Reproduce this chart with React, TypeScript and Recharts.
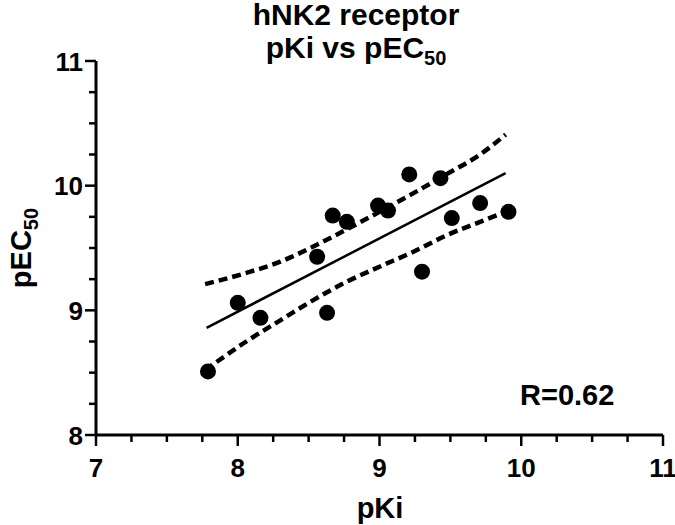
import { ComposedChart, Scatter, Line, XAxis, YAxis } from "recharts";

// measured points
const pkiValues = [7.79, 8.0, 8.16, 8.56, 8.63, 8.67, 8.77, 8.99, 9.06, 9.21, 9.3, 9.43, 9.51, 9.71, 9.91];
const pec50Values = [8.51, 9.06, 8.94, 9.43, 8.98, 9.76, 9.71, 9.84, 9.8, 10.09, 9.31, 10.06, 9.74, 9.86, 9.79];

// linear fit
const fitX = [7.78, 9.89];
const fitY = [8.86, 10.1];

// 95% confidence bands
const bandX = [7.77, 8.06, 8.3, 8.53, 8.77, 9.0, 9.24, 9.47, 9.71, 9.89];
const upperY = [9.21, 9.3, 9.39, 9.51, 9.65, 9.79, 9.94, 10.09, 10.25, 10.41];
const lowerY = [8.52, 8.75, 8.92, 9.08, 9.23, 9.35, 9.47, 9.6, 9.71, 9.79];

const xTicks = [7, 7.25, 7.5, 7.75, 8, 8.25, 8.5, 8.75, 9, 9.25, 9.5, 9.75, 10, 10.25, 10.5, 10.75, 11];
const yTicks = [8, 8.25, 8.5, 8.75, 9, 9.25, 9.5, 9.75, 10, 10.25, 10.5, 10.75, 11];

const FONT = '"Liberation Sans", Arial, sans-serif';

const points = pkiValues.map((x, i) => ({ x, y: pec50Values[i] }));
const fit = fitX.map((x, i) => ({ x, y: fitY[i] }));
const upper = bandX.map((x, i) => ({ x, y: upperY[i] }));
const lower = bandX.map((x, i) => ({ x, y: lowerY[i] }));

const isMajor = (v: number) => Number.isInteger(v);

function XTick({ x, y, payload }: any) {
  const major = isMajor(payload.value);
  return (
    <g>
      <line x1={x} x2={x} y1={y} y2={y + (major ? 11 : 7)} stroke="#000" strokeWidth={2.5} />
      {major && (
        <text x={x} y={y + 42} textAnchor="middle" fontFamily={FONT} fontWeight="bold" fontSize={26} fill="#000">
          {payload.value}
        </text>
      )}
    </g>
  );
}

function YTick({ x, y, payload }: any) {
  const major = isMajor(payload.value);
  return (
    <g>
      <line x1={x - (major ? 11 : 7)} x2={x} y1={y} y2={y} stroke="#000" strokeWidth={2.5} />
      {major && (
        <text x={x - 13} y={y + 9.5} textAnchor="end" fontFamily={FONT} fontWeight="bold" fontSize={26} fill="#000">
          {payload.value}
        </text>
      )}
    </g>
  );
}

const Dot = ({ cx, cy }: any) => <circle cx={cx} cy={cy} r={8} fill="#000" />;

export default function App() {
  return (
    <div style={{ position: "absolute", left: 0, top: 0, width: 675, height: 525, background: "#fff" }}>
      <ComposedChart width={675} height={525} margin={{ top: 61, right: 12, bottom: 0, left: 0 }}>
        <XAxis
          type="number"
          dataKey="x"
          domain={[7, 11]}
          ticks={xTicks}
          interval={0}
          tickSize={0}
          tickMargin={0}
          tickLine={false}
          tick={<XTick />}
          axisLine={{ stroke: "#000", strokeWidth: 3 }}
          height={90}
          allowDataOverflow
        />
        <YAxis
          type="number"
          dataKey="y"
          domain={[8, 11]}
          ticks={yTicks}
          interval={0}
          tickSize={0}
          tickMargin={0}
          tickLine={false}
          tick={<YTick />}
          axisLine={{ stroke: "#000", strokeWidth: 3 }}
          width={96}
          allowDataOverflow
        />
        <Line data={upper} dataKey="y" type="monotone" stroke="#000" strokeWidth={4.5} strokeDasharray="9 5" dot={false} isAnimationActive={false} />
        <Line data={lower} dataKey="y" type="monotone" stroke="#000" strokeWidth={4.5} strokeDasharray="9 5" dot={false} isAnimationActive={false} />
        <Line data={fit} dataKey="y" type="linear" stroke="#000" strokeWidth={2.5} dot={false} isAnimationActive={false} />
        <Scatter data={points} dataKey="y" fill="#000" shape={<Dot />} isAnimationActive={false} />
      </ComposedChart>
      <svg width={675} height={525} style={{ position: "absolute", left: 0, top: 0, pointerEvents: "none" }}>
        <g fontFamily={FONT} fontWeight="bold" fill="#000">
          <text x={356} y={25} textAnchor="middle" fontSize={30}>hNK2 receptor</text>
          <text x={356} y={58} textAnchor="middle" fontSize={30}>
            pKi vs pEC<tspan fontSize={20} dy={7}>50</tspan>
          </text>
          <text x={380} y={518} textAnchor="middle" fontSize={29}>pKi</text>
          <text transform="translate(31,248) rotate(-90)" textAnchor="middle" fontSize={29}>
            pEC<tspan fontSize={20} dy={7}>50</tspan>
          </text>
          <text x={520} y={405} fontSize={29}>R=0.62</text>
        </g>
      </svg>
    </div>
  );
}
